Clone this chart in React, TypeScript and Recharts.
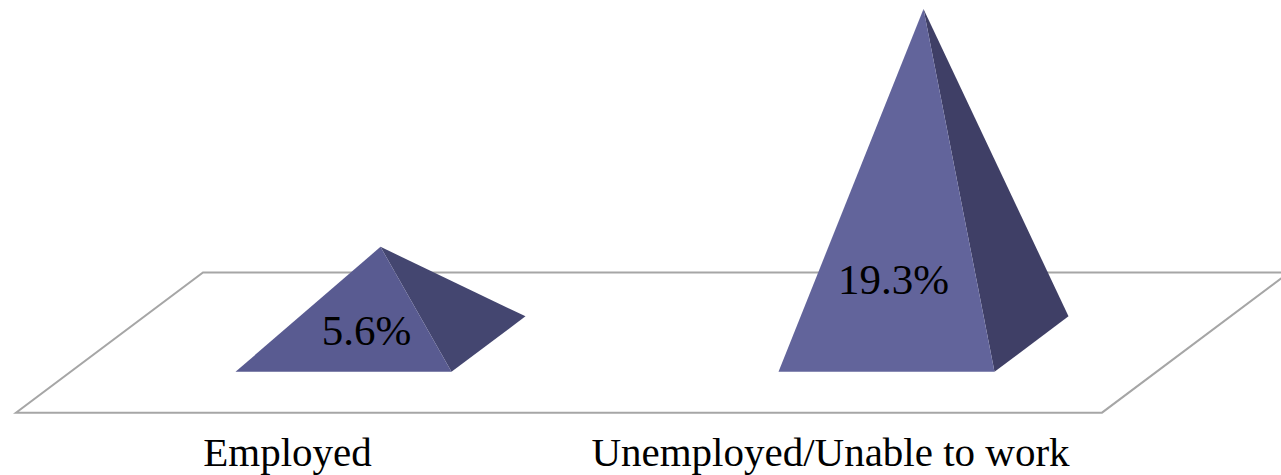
import { BarChart, Bar, XAxis, YAxis, LabelList, ReferenceArea } from "recharts";

const categories = ["Employed", "Unemployed/Unable to work"];
const values = [5.6, 19.3];
const frontColors = ["#595b91", "#62649b"];
const sideColors = ["#444670", "#3f3f66"];

const data = categories.map((name, i) => ({ name, value: values[i] }));

const FONT = "'Liberation Serif', serif";
// depth of the fake 3D floor, in px
const FLOOR_SKEW = 187;
const BAR_DX = 55.5;
const BASE_DX = 74;
const BASE_DY = 55.5;
// where the office chart left its data labels, from the bar's base centre
const labelNudge = [
  { dx: 78.5, dy: -14 },
  { dx: 62.5, dy: -65 },
];

function Floor({ x, y, width, height }: any) {
  const pts = [
    [x, y + height],
    [x + width, y + height],
    [x + width + FLOOR_SKEW, y],
    [x + FLOOR_SKEW, y],
  ];
  return (
    <polygon
      points={pts.map((p) => p.join(",")).join(" ")}
      fill="#ffffff"
      stroke="#a6a6a6"
      strokeWidth={2}
    />
  );
}

function Pyramid({ x, y, width, height, index }: any) {
  // bar height runs from the value down to the centre of the square base
  const baseY = y + height + BASE_DY / 2;
  const left = x + BAR_DX;
  const right = left + width;
  const apexX = left + width / 2 + BASE_DX / 2;
  return (
    <g>
      <polygon
        points={`${apexX},${y} ${right},${baseY} ${right + BASE_DX},${baseY - BASE_DY}`}
        fill={sideColors[index]}
      />
      <polygon
        points={`${apexX},${y} ${left},${baseY} ${right},${baseY}`}
        fill={frontColors[index]}
      />
    </g>
  );
}

function PctLabel({ x, y, width, height, value, index }: any) {
  const n = labelNudge[index];
  return (
    <text
      x={x + width / 2 + n.dx}
      y={y + height + n.dy}
      textAnchor="middle"
      dominantBaseline="central"
      fontFamily={FONT}
      fontSize={43}
      fill="#000000"
    >
      {value}%
    </text>
  );
}

export default function App() {
  return (
    <div style={{ position: "absolute", left: 0, top: 0 }}>
      <BarChart
        width={1281}
        height={475}
        data={data}
        margin={{ top: 5.5, right: 179, bottom: 0, left: 16 }}
        barSize={216}
      >
        <XAxis
          dataKey="name"
          axisLine={false}
          tickLine={false}
          height={61.5}
          tickMargin={17}
          interval={0}
          tick={{ fill: "#000000", fontSize: 41, fontFamily: FONT }}
        />
        <YAxis hide domain={[-4, 19.5]} allowDataOverflow />
        <ReferenceArea y1={-3.95} y2={4.12} shape={<Floor />} />
        <Bar dataKey="value" isAnimationActive={false} shape={<Pyramid />}>
          <LabelList dataKey="value" content={<PctLabel />} />
        </Bar>
      </BarChart>
    </div>
  );
}
